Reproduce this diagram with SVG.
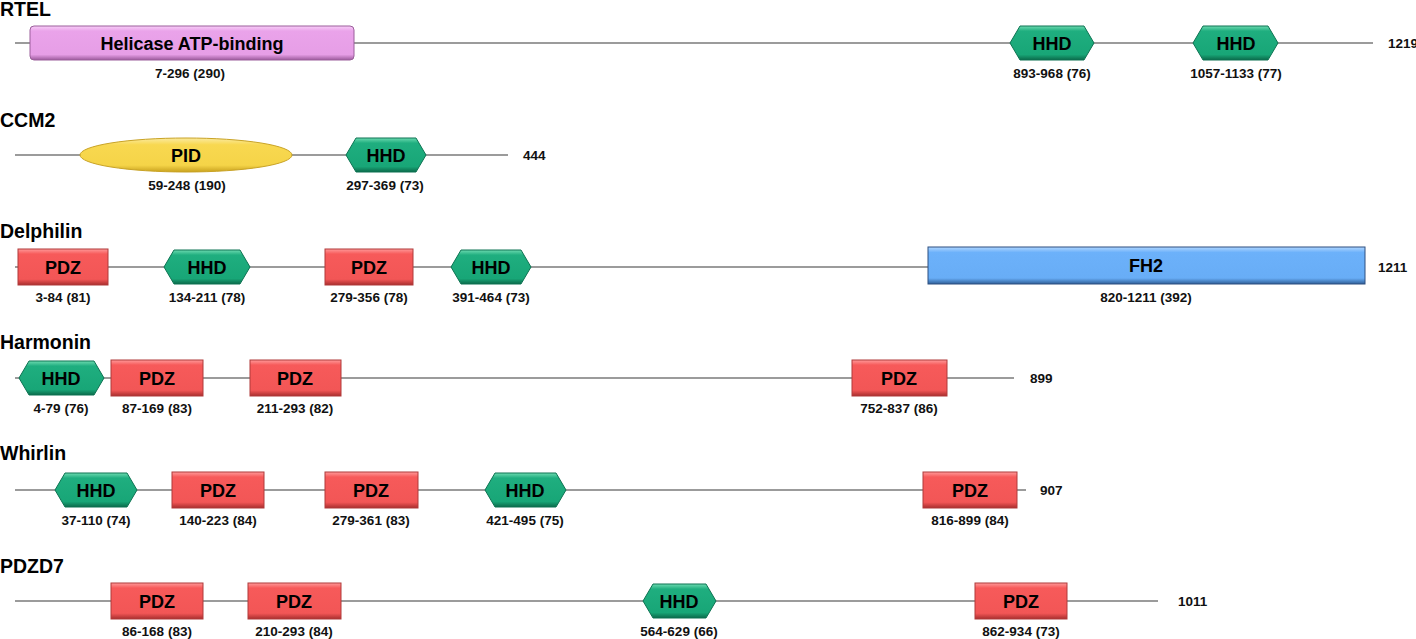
<svg xmlns="http://www.w3.org/2000/svg" width="1416" height="639" viewBox="0 0 1416 639">
<defs>
<linearGradient id="gPDZ" x1="0" y1="0" x2="0" y2="1">
<stop offset="0" stop-color="#ff9a9a"/><stop offset="0.14" stop-color="#f75a5a"/><stop offset="0.84" stop-color="#f25656"/><stop offset="1" stop-color="#a82e2e"/>
</linearGradient>
<linearGradient id="gHHD" x1="0" y1="0" x2="0" y2="1">
<stop offset="0" stop-color="#6ddab0"/><stop offset="0.15" stop-color="#1fae7f"/><stop offset="0.84" stop-color="#18a677"/><stop offset="1" stop-color="#0b6a4a"/>
</linearGradient>
<linearGradient id="gHel" x1="0" y1="0" x2="0" y2="1">
<stop offset="0" stop-color="#f7cdf7"/><stop offset="0.15" stop-color="#eaa3ea"/><stop offset="0.84" stop-color="#e69ee6"/><stop offset="1" stop-color="#9c5a9c"/>
</linearGradient>
<linearGradient id="gPID" x1="0" y1="0" x2="0" y2="1">
<stop offset="0" stop-color="#fbeaa0"/><stop offset="0.2" stop-color="#f8d850"/><stop offset="0.8" stop-color="#f5d448"/><stop offset="1" stop-color="#c9a21e"/>
</linearGradient>
<linearGradient id="gFH2" x1="0" y1="0" x2="0" y2="1">
<stop offset="0" stop-color="#b0d6ff"/><stop offset="0.15" stop-color="#6cb1fa"/><stop offset="0.84" stop-color="#68adf6"/><stop offset="1" stop-color="#2f5f98"/>
</linearGradient>
<style>
.title{font-family:"Liberation Sans",Arial,sans-serif;font-weight:bold;font-size:19.5px;fill:#000}
.dl{font-family:"Liberation Sans",Arial,sans-serif;font-weight:bold;font-size:18px;fill:#000;text-anchor:middle}
.rg{font-family:"Liberation Sans",Arial,sans-serif;font-weight:bold;font-size:13.5px;fill:#111;text-anchor:middle}
.len{font-family:"Liberation Sans",Arial,sans-serif;font-weight:bold;font-size:13.5px;fill:#111}
.bb{stroke:#7a7a7a;stroke-width:1.6;fill:none}
.pdz{fill:url(#gPDZ);stroke:#b03a3a;stroke-width:1}
.hhd{fill:url(#gHHD);stroke:#0d7352;stroke-width:1}
.hel{fill:url(#gHel);stroke:#9b5f9b;stroke-width:1}
.pid{fill:url(#gPID);stroke:#c9a326;stroke-width:1}
.fh2{fill:url(#gFH2);stroke:#2c4f80;stroke-width:1}
</style>
</defs>
<rect width="1416" height="639" fill="#ffffff"/>

<g id="connectors">
<line class="bb" x1="15" y1="43" x2="1373" y2="43"/>
<line class="bb" x1="15" y1="155" x2="508" y2="155"/>
<line class="bb" x1="15" y1="267" x2="928" y2="267"/>
<line class="bb" x1="15" y1="378" x2="1014" y2="378"/>
<line class="bb" x1="15" y1="490" x2="1026" y2="490"/>
<line class="bb" x1="15" y1="601" x2="1158" y2="601"/>
</g>

<!-- RTEL -->
<g id="RTEL">
<text class="title" x="0" y="16">RTEL</text>
<text class="len" x="1388" y="48">1219</text>
<g id="RTEL-helicase">
<rect class="hel" x="30" y="26" width="324" height="34" rx="4"/>
<text class="dl" x="192" y="49.5">Helicase ATP-binding</text>
<text class="rg" x="190" y="78">7-296 (290)</text>
</g>
<g id="RTEL-HHD1">
<polygon class="hhd" points="1010,43 1020,26 1084,26 1094,43 1084,60 1020,60"/>
<text class="dl" x="1052" y="49.5">HHD</text>
<text class="rg" x="1052" y="78">893-968 (76)</text>
</g>
<g id="RTEL-HHD2">
<polygon class="hhd" points="1193,43 1203,26 1268,26 1278,43 1268,60 1203,60"/>
<text class="dl" x="1236" y="49.5">HHD</text>
<text class="rg" x="1236" y="78">1057-1133 (77)</text>
</g>
</g>

<!-- CCM2 -->
<g id="CCM2">
<text class="title" x="0" y="127">CCM2</text>
<text class="len" x="523" y="160">444</text>
<g id="CCM2-PID">
<ellipse class="pid" cx="186" cy="155" rx="106" ry="17"/>
<text class="dl" x="186" y="161.5">PID</text>
<text class="rg" x="187" y="190">59-248 (190)</text>
</g>
<g id="CCM2-HHD">
<polygon class="hhd" points="346,155 356,138 416,138 426,155 416,172 356,172"/>
<text class="dl" x="386" y="161.5">HHD</text>
<text class="rg" x="385" y="190">297-369 (73)</text>
</g>
</g>

<!-- Delphilin -->
<g id="Delphilin">
<text class="title" x="0" y="238">Delphilin</text>
<text class="len" x="1378" y="272">1211</text>
<g id="Delphilin-PDZ1">
<rect class="pdz" x="18" y="249" width="90" height="36"/>
<text class="dl" x="63" y="273.5">PDZ</text>
<text class="rg" x="63" y="302">3-84 (81)</text>
</g>
<g id="Delphilin-HHD1">
<polygon class="hhd" points="164,267 174,250 240,250 250,267 240,284 174,284"/>
<text class="dl" x="207" y="273.5">HHD</text>
<text class="rg" x="207" y="302">134-211 (78)</text>
</g>
<g id="Delphilin-PDZ2">
<rect class="pdz" x="325" y="249" width="88" height="36"/>
<text class="dl" x="369" y="273.5">PDZ</text>
<text class="rg" x="369" y="302">279-356 (78)</text>
</g>
<g id="Delphilin-HHD2">
<polygon class="hhd" points="451,267 461,250 521,250 531,267 521,284 461,284"/>
<text class="dl" x="491" y="273.5">HHD</text>
<text class="rg" x="491" y="302">391-464 (73)</text>
</g>
<g id="Delphilin-FH2">
<rect class="fh2" x="928" y="247" width="437" height="37"/>
<text class="dl" x="1146" y="272">FH2</text>
<text class="rg" x="1146" y="302">820-1211 (392)</text>
</g>
</g>

<!-- Harmonin -->
<g id="Harmonin">
<text class="title" x="0" y="349">Harmonin</text>
<text class="len" x="1030" y="383">899</text>
<g id="Harmonin-HHD">
<polygon class="hhd" points="19,378 29,361 94,361 104,378 94,395 29,395"/>
<text class="dl" x="61" y="384.5">HHD</text>
<text class="rg" x="61" y="413">4-79 (76)</text>
</g>
<g id="Harmonin-PDZ1">
<rect class="pdz" x="111" y="360" width="92" height="36"/>
<text class="dl" x="157" y="384.5">PDZ</text>
<text class="rg" x="157" y="413">87-169 (83)</text>
</g>
<g id="Harmonin-PDZ2">
<rect class="pdz" x="250" y="360" width="91" height="36"/>
<text class="dl" x="295" y="384.5">PDZ</text>
<text class="rg" x="295" y="413">211-293 (82)</text>
</g>
<g id="Harmonin-PDZ3">
<rect class="pdz" x="852" y="360" width="95" height="36"/>
<text class="dl" x="899" y="384.5">PDZ</text>
<text class="rg" x="899" y="413">752-837 (86)</text>
</g>
</g>

<!-- Whirlin -->
<g id="Whirlin">
<text class="title" x="0" y="460">Whirlin</text>
<text class="len" x="1040" y="495">907</text>
<g id="Whirlin-HHD1">
<polygon class="hhd" points="55,490 65,473 127,473 137,490 127,507 65,507"/>
<text class="dl" x="96" y="496.5">HHD</text>
<text class="rg" x="96" y="525">37-110 (74)</text>
</g>
<g id="Whirlin-PDZ1">
<rect class="pdz" x="172" y="472" width="92" height="36"/>
<text class="dl" x="218" y="496.5">PDZ</text>
<text class="rg" x="218" y="525">140-223 (84)</text>
</g>
<g id="Whirlin-PDZ2">
<rect class="pdz" x="325" y="472" width="93" height="36"/>
<text class="dl" x="371" y="496.5">PDZ</text>
<text class="rg" x="371" y="525">279-361 (83)</text>
</g>
<g id="Whirlin-HHD2">
<polygon class="hhd" points="485,490 495,473 556,473 566,490 556,507 495,507"/>
<text class="dl" x="525" y="496.5">HHD</text>
<text class="rg" x="525" y="525">421-495 (75)</text>
</g>
<g id="Whirlin-PDZ3">
<rect class="pdz" x="923" y="472" width="94" height="36"/>
<text class="dl" x="970" y="496.5">PDZ</text>
<text class="rg" x="970" y="525">816-899 (84)</text>
</g>
</g>

<!-- PDZD7 -->
<g id="PDZD7">
<text class="title" x="0" y="573">PDZD7</text>
<text class="len" x="1178" y="606">1011</text>
<g id="PDZD7-PDZ1">
<rect class="pdz" x="111" y="583" width="92" height="36"/>
<text class="dl" x="157" y="607.5">PDZ</text>
<text class="rg" x="157" y="636">86-168 (83)</text>
</g>
<g id="PDZD7-PDZ2">
<rect class="pdz" x="248" y="583" width="93" height="36"/>
<text class="dl" x="294" y="607.5">PDZ</text>
<text class="rg" x="294" y="636">210-293 (84)</text>
</g>
<g id="PDZD7-HHD">
<polygon class="hhd" points="643,601 653,584 706,584 716,601 706,618 653,618"/>
<text class="dl" x="679" y="607.5">HHD</text>
<text class="rg" x="679" y="636">564-629 (66)</text>
</g>
<g id="PDZD7-PDZ3">
<rect class="pdz" x="975" y="583" width="92" height="36"/>
<text class="dl" x="1021" y="607.5">PDZ</text>
<text class="rg" x="1021" y="636">862-934 (73)</text>
</g>
</g>
</svg>
